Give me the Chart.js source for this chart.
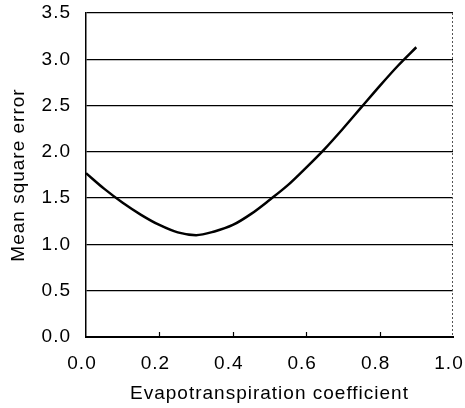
<!DOCTYPE html>
<html>
<head>
<meta charset="utf-8">
<script src="https://cdn.jsdelivr.net/npm/chart.js@4/dist/chart.umd.min.js"></script>
<style>
  html, body { margin: 0; padding: 0; background: #fff; }
  #wrap { width: 465px; height: 408px; }
</style>
</head>
<body>
<div id="wrap"><canvas id="mseChart" width="465" height="408"></canvas></div>
<script>
// evapotranspiration coefficient vs mean square error
const coefficients = [0.0, 0.05, 0.1, 0.15, 0.2, 0.25, 0.3, 0.35, 0.4, 0.45, 0.5, 0.55, 0.6, 0.65, 0.7, 0.75, 0.8, 0.85, 0.9];
const mseValues = [1.77, 1.6, 1.45, 1.32, 1.21, 1.13, 1.1, 1.14, 1.21, 1.33, 1.48, 1.64, 1.83, 2.03, 2.25, 2.48, 2.71, 2.93, 3.13];
const xTicks = [0.0, 0.2, 0.4, 0.6, 0.8, 1.0];
const yTicks = [0.0, 0.5, 1.0, 1.5, 2.0, 2.5, 3.0, 3.5];

const FONT = "'Liberation Sans', Arial, sans-serif";

// slightly letter-spaced text like the scanned figure
const spacingPlugin = {
    id: 'spacing',
    beforeUpdate(chart) { chart.ctx.letterSpacing = '1px'; },
    beforeDraw(chart) { chart.ctx.letterSpacing = '1px'; }
};

// inward x tick marks and dotted right border
const framePlugin = {
    id: 'frame',
    afterDatasetsDraw(chart) {
        const ctx = chart.ctx;
        const x = chart.scales.x;
        const area = chart.chartArea;
        ctx.save();
        ctx.strokeStyle = '#000';
        ctx.lineWidth = 1.2;
        xTicks.slice(1, -1).forEach(v => {
            const px = Math.round(x.getPixelForValue(v)) + 0.5;
            ctx.beginPath();
            ctx.moveTo(px, area.bottom);
            ctx.lineTo(px, area.bottom - 5);
            ctx.stroke();
        });
        ctx.strokeStyle = '#555';
        ctx.lineWidth = 1;
        ctx.setLineDash([2, 2]);
        const rx = Math.round(x.getPixelForValue(1.0)) - 0.5;
        ctx.beginPath();
        ctx.moveTo(rx, area.top);
        ctx.lineTo(rx, area.bottom);
        ctx.stroke();
        ctx.restore();
    }
};

new Chart(document.getElementById('mseChart').getContext('2d'), {
    type: 'line',
    data: {
        datasets: [{
            data: coefficients.map((c, i) => ({ x: c, y: mseValues[i] })),
            borderColor: '#000',
            borderWidth: 2.5,
            pointRadius: 0,
            fill: false,
            cubicInterpolationMode: 'monotone'
        }]
    },
    options: {
        responsive: false,
        animation: false,
        devicePixelRatio: 1,
        layout: { padding: { top: 13, right: 12, left: 0, bottom: 0 } },
        plugins: { legend: { display: false }, tooltip: { enabled: false } },
        scales: {
            x: {
                type: 'linear',
                min: 0,
                max: 1,
                afterBuildTicks: s => { s.ticks = xTicks.map(v => ({ value: v })); },
                afterFit: s => { s.height = 71; s.paddingLeft = 0; s.paddingRight = 0; },
                grid: { display: false, drawTicks: false },
                border: { display: true, color: '#000', width: 2 },
                ticks: {
                    color: '#000',
                    padding: 15,
                    labelOffset: -4,
                    maxRotation: 0,
                    font: { family: FONT, size: 19 },
                    callback: v => v.toFixed(1)
                },
                title: {
                    display: true,
                    text: 'Evapotranspiration coefficient',
                    color: '#000',
                    font: { family: FONT, size: 19 },
                    padding: { top: 0, bottom: 3 }
                }
            },
            y: {
                min: 0,
                max: 3.5,
                afterBuildTicks: s => { s.ticks = yTicks.map(v => ({ value: v })); },
                afterFit: s => { s.width = 86; s.paddingTop = 0; s.paddingBottom = 0; },
                grid: { color: '#000', lineWidth: 1.3, drawTicks: false },
                border: { display: true, color: '#000', width: 1.5 },
                ticks: {
                    color: '#000',
                    padding: 15,
                    font: { family: FONT, size: 19 },
                    callback: v => v.toFixed(1)
                },
                title: {
                    display: true,
                    text: 'Mean square error',
                    color: '#000',
                    font: { family: FONT, size: 19 },
                    padding: { top: 7, bottom: 0 }
                }
            }
        }
    },
    plugins: [spacingPlugin, framePlugin]
});
</script>
</body>
</html>
